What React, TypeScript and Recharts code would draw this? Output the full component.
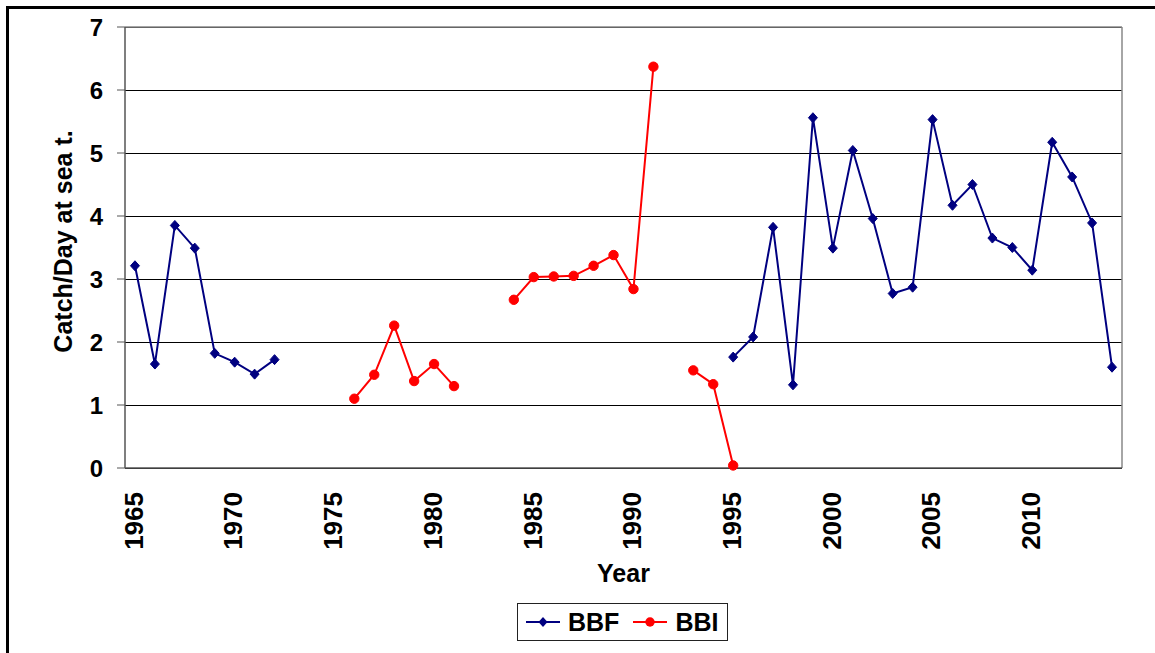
import React from "react";
import {
  LineChart,
  Line,
  XAxis,
  YAxis,
  CartesianGrid,
  ReferenceLine,
  Legend,
  Label,
} from "recharts";

const years: number[] = [
  1965, 1966, 1967, 1968, 1969, 1970, 1971, 1972, 1973, 1974,
  1975, 1976, 1977, 1978, 1979, 1980, 1981, 1982, 1983, 1984,
  1985, 1986, 1987, 1988, 1989, 1990, 1991, 1992, 1993, 1994,
  1995, 1996, 1997, 1998, 1999, 2000, 2001, 2002, 2003, 2004,
  2005, 2006, 2007, 2008, 2009, 2010, 2011, 2012, 2013, 2014,
];

const bbf: (number | null)[] = [
  3.21, 1.65, 3.85, 3.49, 1.82, 1.68, 1.49, 1.72, null, null,
  null, null, null, null, null, null, null, null, null, null,
  null, null, null, null, null, null, null, null, null, null,
  1.76, 2.08, 3.82, 1.32, 5.56, 3.49, 5.04, 3.96, 2.77, 2.87,
  5.53, 4.17, 4.5, 3.65, 3.5, 3.14, 5.17, 4.62, 3.89, 1.6,
];

const bbi: (number | null)[] = [
  null, null, null, null, null, null, null, null, null, null,
  null, 1.1, 1.48, 2.26, 1.38, 1.65, 1.3, null, null, 2.67,
  3.03, 3.04, 3.05, 3.21, 3.38, 2.84, 6.37, null, 1.55, 1.33,
  0.04, null, null, null, null, null, null, null, null, null,
  null, null, null, null, null, null, null, null, null, null,
];

const yTicks: number[] = [0, 1, 2, 3, 4, 5, 6, 7];
const xLabelTicks: number[] = [1965, 1970, 1975, 1980, 1985, 1990, 1995, 2000, 2005, 2010];

const xDomain: [number, number] = [years[0] - 0.5, years[years.length - 1] + 0.5];
const xBoundaryTicks: number[] = [...years.map((y) => y - 0.5), years[years.length - 1] + 0.5];

const data = years.map((year, i) => ({ year, BBF: bbf[i], BBI: bbi[i] }));

const FONT = "'Liberation Sans', Arial, Helvetica, sans-serif";
const NAVY = "#000080";
const RED = "#FF0000";

const Diamond = (props: any) => {
  const { cx, cy } = props;
  if (cx == null || cy == null || props.value == null) return <g key={props.key} />;
  return (
    <path
      key={props.key}
      d={`M${cx},${cy - 5} L${cx + 4.5},${cy} L${cx},${cy + 5} L${cx - 4.5},${cy} Z`}
      fill={NAVY}
      stroke={NAVY}
      strokeWidth={1}
    />
  );
};

const Dot = (props: any) => {
  const { cx, cy } = props;
  if (cx == null || cy == null || props.value == null) return <g key={props.key} />;
  return <circle key={props.key} cx={cx} cy={cy} r={4.7} fill={RED} stroke={RED} />;
};

const XTick = (props: any) => {
  const { x, y, payload } = props;
  const ty = y + 16;
  return (
    <text
      x={x}
      y={ty}
      transform={`rotate(-90, ${x}, ${ty})`}
      textAnchor="end"
      dy="0.3em"
      fontSize={26}
      fontWeight="bold"
      fontFamily={FONT}
      fill="#000"
    >
      {payload.value}
    </text>
  );
};

const LegendContent = (props: any) => {
  const payload = props.payload || [];
  return (
    <div
      style={{
        boxSizing: "border-box",
        width: 211,
        height: 38,
        border: "1px solid #222",
        background: "#fff",
        display: "flex",
        alignItems: "center",
        paddingLeft: 8,
        fontFamily: FONT,
        fontWeight: "bold",
        fontSize: 25,
        color: "#000",
      }}
    >
      {payload.map((p: any, i: number) => (
        <div key={i} style={{ display: "flex", alignItems: "center", marginRight: i === 0 ? 14 : 0 }}>
          <svg width={34} height={20} style={{ display: "block" }}>
            <line x1={0} y1={10} x2={34} y2={10} stroke={p.color} strokeWidth={2} />
            {p.value === "BBF" ? (
              <path d="M17,5 L21.5,10 L17,15 L12.5,10 Z" fill={NAVY} />
            ) : (
              <circle cx={17} cy={10} r={4.7} fill={RED} />
            )}
          </svg>
          <span style={{ marginLeft: 8, lineHeight: "25px" }}>{p.value}</span>
        </div>
      ))}
    </div>
  );
};

export default function App() {
  return (
    <div
      style={{
        position: "absolute",
        left: 0,
        top: 0,
        width: 1155,
        height: 653,
        overflow: "hidden",
        background: "#fff",
      }}
    >
      <div
        style={{
          position: "absolute",
          left: 6,
          top: 6,
          width: 1200,
          height: 700,
          borderLeft: "3px solid #000",
          borderTop: "3px solid #000",
        }}
      />
      <div style={{ position: "absolute", left: 0, top: 0 }}>
        <LineChart
          width={1155}
          height={653}
          data={data}
          margin={{ top: 27, right: 33, left: 0, bottom: 63 }}
          style={{ fontFamily: FONT }}
        >
          <CartesianGrid
            xAxisId="a"
            vertical={false}
            stroke="#000"
            strokeWidth={1}
            shapeRendering="crispEdges"
          />
          <XAxis
            xAxisId="a"
            dataKey="year"
            type="number"
            domain={xDomain}
            allowDataOverflow
            ticks={xBoundaryTicks}
            interval={0}
            tick={false}
            tickSize={8}
            height={8}
            axisLine={{ stroke: "#555", strokeWidth: 1.5 }}
            tickLine={{ stroke: "#555", strokeWidth: 1 }}
          />
          <XAxis
            xAxisId="b"
            dataKey="year"
            type="number"
            domain={xDomain}
            allowDataOverflow
            ticks={xLabelTicks}
            interval={0}
            axisLine={false}
            tickLine={false}
            tickSize={0}
            tickMargin={0}
            height={114}
            tick={<XTick />}
          >
            <Label
              content={(lp: any) => {
                const vb = lp.viewBox || {};
                return (
                  <text
                    x={vb.x + vb.width / 2}
                    y={582}
                    textAnchor="middle"
                    fontSize={25}
                    fontWeight="bold"
                    fontFamily={FONT}
                    fill="#000"
                  >
                    Year
                  </text>
                );
              }}
            />
          </XAxis>
          <YAxis
            type="number"
            domain={[0, 7]}
            ticks={yTicks}
            interval={0}
            width={125}
            tickSize={8}
            tickMargin={14}
            axisLine={{ stroke: "#555", strokeWidth: 1.5 }}
            tickLine={{ stroke: "#555", strokeWidth: 1 }}
            tick={{ fontSize: 24, fontWeight: "bold", fill: "#000", fontFamily: FONT }}
          >
            <Label
              content={(lp: any) => {
                const vb = lp.viewBox || {};
                const cx = 72;
                const cy = vb.y + vb.height / 2 - 6;
                return (
                  <text
                    x={cx}
                    y={cy}
                    transform={`rotate(-90, ${cx}, ${cy})`}
                    textAnchor="middle"
                    fontSize={25}
                    fontWeight="bold"
                    fontFamily={FONT}
                    fill="#000"
                  >
                    Catch/Day at sea t.
                  </text>
                );
              }}
            />
          </YAxis>
          <ReferenceLine xAxisId="a" y={7} stroke="#888" strokeWidth={1.5} />
          <ReferenceLine xAxisId="a" x={xDomain[1]} stroke="#888" strokeWidth={1.5} />
          <Legend
            verticalAlign="middle"
            align="center"
            layout="horizontal"
            wrapperStyle={{ left: 517, top: 603, width: 211, height: 38 }}
            content={<LegendContent />}
          />
          <Line
            xAxisId="a"
            dataKey="BBF"
            name="BBF"
            stroke={NAVY}
            strokeWidth={2}
            dot={<Diamond />}
            activeDot={false}
            isAnimationActive={false}
          />
          <Line
            xAxisId="b"
            dataKey="BBI"
            name="BBI"
            stroke={RED}
            strokeWidth={2}
            dot={<Dot />}
            activeDot={false}
            isAnimationActive={false}
          />
        </LineChart>
      </div>
    </div>
  );
}
